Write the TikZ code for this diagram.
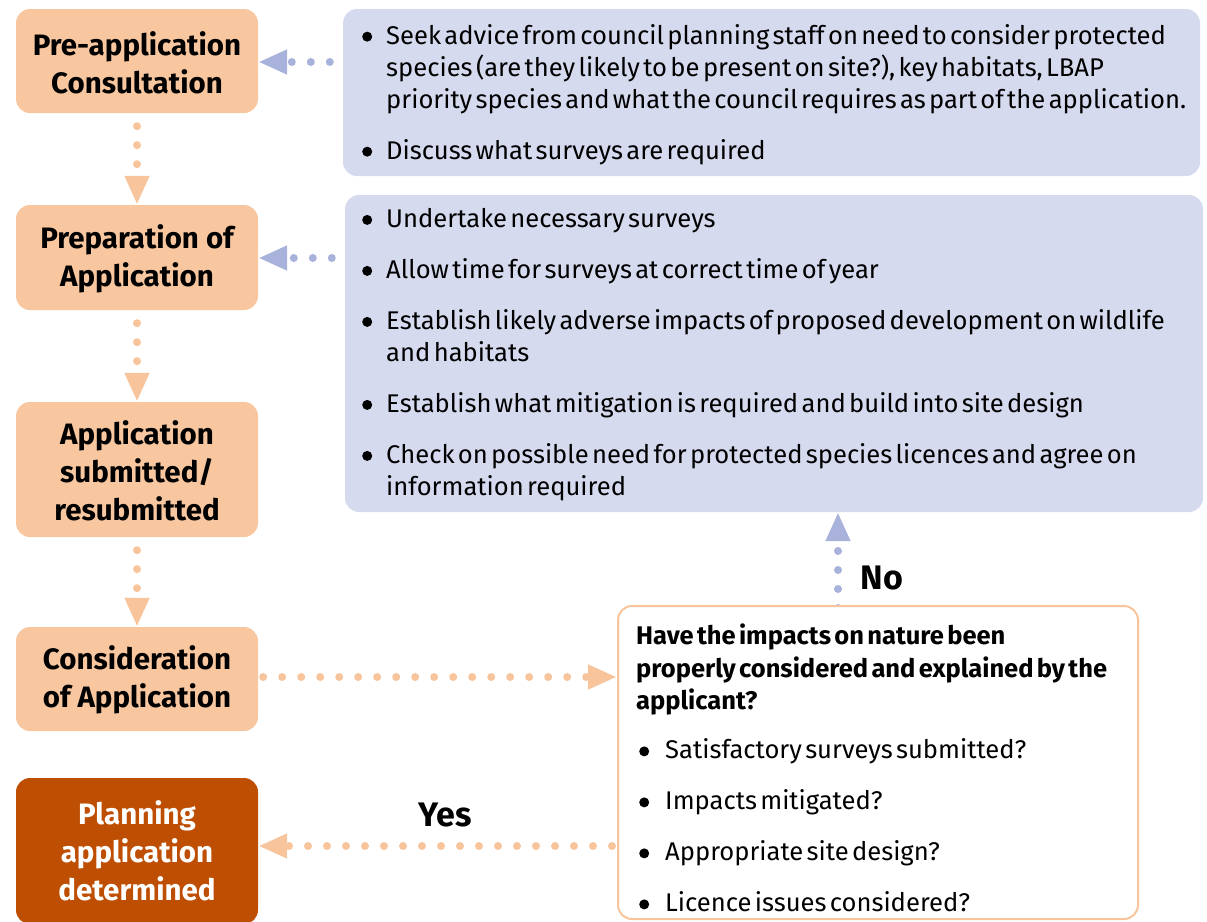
\documentclass[tikz,border=0pt]{standalone}
\usepackage{fontspec}
\setmainfont{Fira Sans}
\usetikzlibrary{arrows.meta,backgrounds}
\definecolor{lorange}{RGB}{248,199,160}
\definecolor{dorange}{RGB}{190,78,2}
\definecolor{lav}{RGB}{214,218,239}
\definecolor{arrblue}{RGB}{168,178,218}
\definecolor{arrorange}{RGB}{247,196,156}
\newcommand\bul{\tikz[baseline={(0pt,-7.5pt)}]\fill (5pt,0pt) circle[radius=5pt];}
\newcommand\bitem[1]{\noindent\hangindent=24pt\hangafter=1\makebox[24pt][l]{\bul}#1\par}
\newcommand\qitem[1]{\noindent\hangindent=29pt\hangafter=1\makebox[29pt][l]{\hspace{3pt}\bul}#1\par}
\newcommand\gap{\vspace{19pt}}
\newcommand\listsetup{\fontsize{25.6}{32}\selectfont\setlength{\parskip}{0pt}\raggedright}
\tikzset{
  leftbox/.style={fill=lorange, rounded corners=14pt, minimum width=242pt, inner sep=0pt},
  lefttext/.style={align=center, font=\bfseries\fontsize{29.5}{38}\selectfont, inner sep=0pt},
  bluebox/.style={fill=lav, rounded corners=14pt, inner sep=0pt},
  qbox/.style={fill=white, draw=arrorange, line width=2pt, rounded corners=14pt, inner sep=0pt},
  listtext/.style={anchor=north west, inner sep=0pt, align=left},
  dotted line/.style={line width=8pt, line cap=round, dash pattern=on 0pt off 19pt},
  bluearrow/.style={dotted line, draw=arrblue, -{Triangle[length=29pt,width=23pt,fill=arrblue]}},
  orangearrow/.style={dotted line, draw=arrorange, -{Triangle[length=29pt,width=23pt,fill=arrorange]}},
  lbl/.style={font=\bfseries\fontsize{34}{40}\selectfont, inner sep=0pt}
}
\begin{document}
\begin{tikzpicture}[x=1pt,y=-1pt]
\useasboundingbox (0,0) rectangle (1207,921);
\clip (0,0) rectangle (1207,921);
% left column boxes
\node[leftbox, minimum height=104pt] (pre) at (137,61) {};
\node[leftbox, minimum height=105pt] (prep) at (137,257.5) {};
\node[leftbox, minimum height=135pt] (sub) at (137,469.5) {};
\node[leftbox, minimum height=104pt] (cons) at (137,679) {};
\node[leftbox, fill=dorange, minimum height=146pt] (det) at (137,851) {};
% left column texts
\node[lefttext] (pretext) at ([yshift=-2pt]pre.center) {Pre-application\\Consultation};
\node[lefttext] (preptext) at ([yshift=-1pt]prep.center) {Preparation of\\Application};
\node[lefttext] (subtext) at ([yshift=-1pt]sub.center) {Application\\submitted/\\resubmitted};
\node[lefttext] (constext) at ([yshift=-1pt]cons.center) {Consideration\\of Application};
\node[lefttext, text=white] (dettext) at (det.center) {Planning\\application\\determined};
% right column boxes
\node[bluebox, minimum width=857pt, minimum height=167pt] (b1) at (771.5,92.5) {};
\node[bluebox, minimum width=858pt, minimum height=317pt] (b2) at (774,353.5) {};
\node[qbox, minimum width=520pt, minimum height=313pt] (q) at (878,762.5) {};
% right column texts
\node[listtext, text width=840pt] (t1) at (362,24) {\listsetup
\bitem{Seek advice from council planning staff on need to consider protected\newline species (are they likely to be present on site?), key habitats, LBAP\newline priority species and what the council requires as part of the application.}
\gap
\bitem{Discuss what surveys are required}};
\node[listtext, text width=840pt] (t2) at (362,208) {\listsetup
\bitem{Undertake necessary surveys}
\gap
\bitem{Allow time for surveys at correct time of year}
\gap
\bitem{Establish likely adverse impacts of proposed development on wildlife\newline and habitats}
\gap
\bitem{Establish what mitigation is required and build into site design}
\gap
\bitem{Check on possible need for protected species licences and agree on\newline information required}};
\node[listtext, text width=500pt] (t3) at (636,624) {\listsetup
{\bfseries\fontsize{25.5}{32.5}\selectfont Have the impacts on nature been\newline properly considered and explained by the\newline applicant?\par}
\vspace{17pt}
\qitem{Satisfactory surveys submitted?}
\gap
\qitem{Impacts mitigated?}
\gap
\qitem{Appropriate site design?}
\gap
\qitem{Licence issues considered?}};
% labels
\node[lbl] (no) at (882,578) {No};
\node[lbl] (yes) at (445,815) {Yes};
% connectors
\begin{pgfonlayer}{background}
\draw[bluearrow] ([xshift=-13pt]b1.west |- 0,62) -- (pre.east |- 0,62);
\draw[bluearrow] ([xshift=-13pt]b2.west |- 0,258) -- (prep.east |- 0,258);
\draw[orangearrow] ([yshift=-13pt]pre.south) -- (prep.north);
\draw[orangearrow] ([yshift=-13pt]prep.south) -- (sub.north);
\draw[orangearrow] ([yshift=-13pt]sub.south) -- (cons.north);
\draw[orangearrow] ([xshift=5pt]cons.east |- 0,677) -- (q.west |- 0,677);
\draw[orangearrow] ([xshift=-5pt]q.west |- 0,846) -- (det.east |- 0,846);
\draw[bluearrow] ([yshift=-3pt]q.north -| 838,0) -- (b2.south -| 838,0);
\end{pgfonlayer}
\end{tikzpicture}
\end{document}
